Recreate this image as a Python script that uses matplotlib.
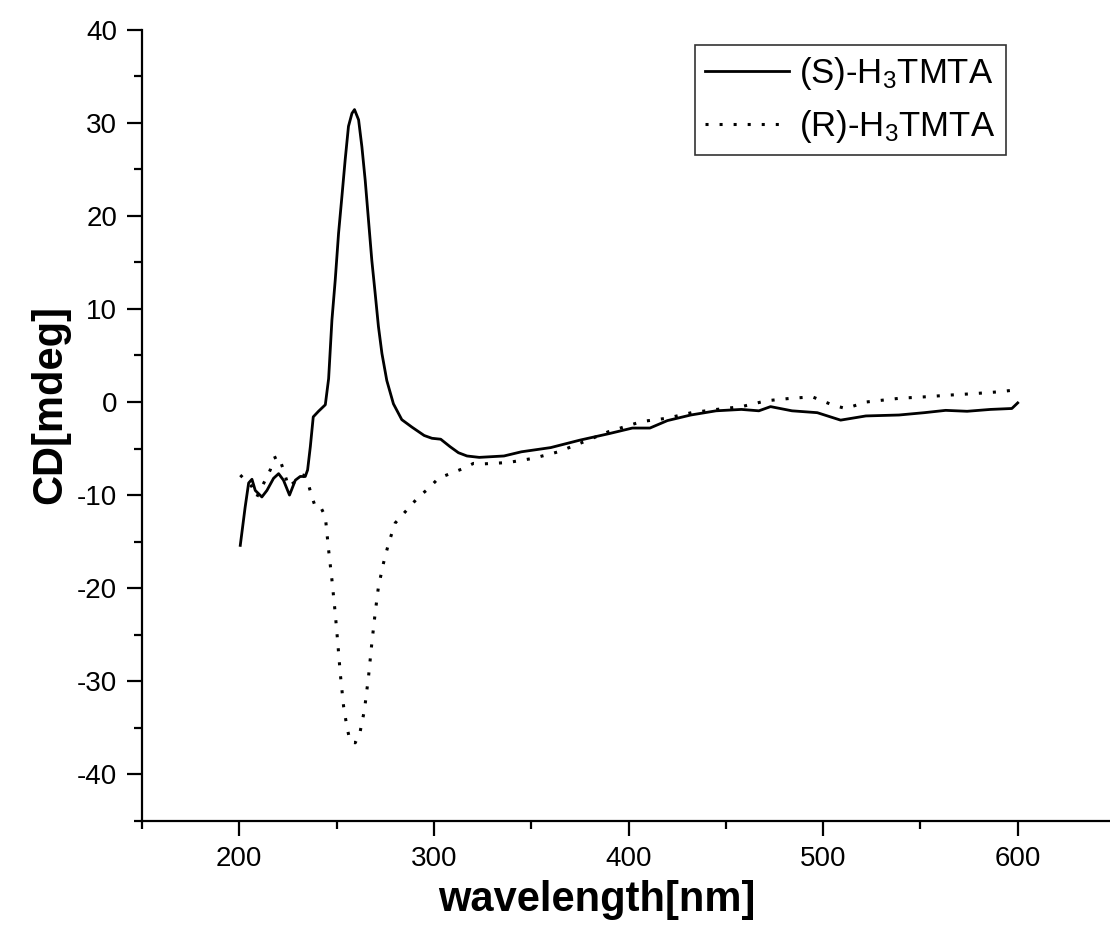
import matplotlib
matplotlib.use("Agg")
import matplotlib.pyplot as plt
from matplotlib.ticker import MultipleLocator

plt.rcParams['font.family'] = ['Liberation Sans', 'DejaVu Sans']
plt.rcParams['mathtext.default'] = 'regular'
plt.rcParams['axes.unicode_minus'] = False

# (S)-H3TMTA
s_wl = [200.5, 203, 204.8, 206.5, 208.2, 211.6, 214.2, 217.6, 220.2, 222.7, 225.8,
        228.8, 231.3, 233.9, 235.1, 236.5, 238, 240.7, 244.2, 245.9, 247.6, 249.3,
        251, 252.7, 254.4, 256.1, 257.9, 259.2, 261.3, 263, 264.7, 266.4, 268.1,
        269.8, 271.5, 273.3, 275.8, 279.2, 283.5, 288.7, 295, 299, 303.5, 308.3,
        312.6, 317, 323.3, 336, 345, 360, 375, 390, 402, 411, 420, 432, 445, 458,
        467, 473, 484, 497, 509, 522, 539, 552, 563, 574, 586, 597, 600]
s_cd = [-15.4, -11.3, -8.7, -8.3, -9.5, -10.2, -9.5, -8.2, -7.7, -8.4, -10.0,
        -8.4, -8.0, -8.0, -7.3, -4.8, -1.6, -1.0, -0.3, 2.5, 8.8, 13.1,
        18.1, 22.0, 26.0, 29.6, 31.0, 31.4, 30.3, 27.4, 23.8, 19.5, 15.2,
        11.7, 8.1, 5.2, 2.3, -0.2, -1.9, -2.7, -3.6, -3.9, -4.0, -4.8,
        -5.45, -5.8, -5.95, -5.8, -5.35, -4.9, -4.1, -3.4, -2.8, -2.8, -2.0, -1.4, -0.95, -0.8,
        -0.95, -0.5, -0.95, -1.15, -1.95, -1.5, -1.4, -1.15, -0.9, -1.0, -0.8, -0.7, -0.1]

# (R)-H3TMTA
r_wl = [200.5, 206.5, 209, 212.5, 215.9, 217.6, 220.2, 222.7, 225.3, 229.6, 233,
        235.6, 237.3, 239, 241.6, 244.2, 245.9, 247.6, 249.3, 250.5, 251.9, 253.6,
        255.3, 257, 259.6, 262.1, 264.3, 266.4, 268.1, 269.8, 271.5, 274.1, 276.7,
        280.1, 286.1, 292.1, 297.2, 302.3, 308.3, 314.4, 320.3, 325.4, 338.3, 351.1,
        364, 376.8, 389.6, 406.8, 419.6, 432.4, 445.3, 458.1, 470.9, 483.8, 494.5,
        505.2, 511.6, 522.3, 539.4, 552.2, 565.1, 577.9, 590.8, 599]
r_cd = [-7.85, -9.1, -10.2, -8.75, -7.3, -6.05, -5.8, -7.3, -9.1, -8.4, -7.85,
        -8.9, -10.2, -11.2, -11.2, -12.3, -15.9, -19.1, -22.7, -25.6, -29.2, -32.7,
        -34.9, -36.5, -36.6, -35.4, -33.1, -29.5, -25.9, -22.7, -19.85, -17.3, -15.2,
        -13.0, -11.6, -10.2, -9.3, -8.2, -7.7, -7.2, -6.6, -6.65, -6.5, -6.05,
        -5.35, -4.3, -3.2, -2.1, -1.75, -1.15, -0.8, -0.5, 0.13, 0.4, 0.55,
        -0.35, -0.7, 0.0, 0.4, 0.55, 0.74, 0.9, 1.1, 1.3]

fig = plt.figure(figsize=(11.1, 9.35), dpi=100)
ax = fig.add_axes([142 / 1110, 114 / 935, 973 / 1110, 791.5 / 935])

ax.plot(s_wl, s_cd, color='black', lw=2.0, label='(S)-H$_3$TMTA')
ax.plot(r_wl, r_cd, color='black', lw=2.2, linestyle=(0, (1, 3.6)), label='(R)-H$_3$TMTA')

ax.set_xlim(150, 650)
ax.set_ylim(-45, 40)
ax.xaxis.set_major_locator(MultipleLocator(100))
ax.xaxis.set_minor_locator(MultipleLocator(50))
ax.yaxis.set_major_locator(MultipleLocator(10))
ax.yaxis.set_minor_locator(MultipleLocator(5))

for side in ['top', 'right']:
    ax.spines[side].set_visible(False)
for side in ['left', 'bottom']:
    ax.spines[side].set_linewidth(1.6)

ax.tick_params(which='major', direction='out', length=11, width=1.6, labelsize=20, pad=7)
ax.tick_params(which='minor', direction='out', length=6, width=1.6)

ax.set_xlabel('wavelength[nm]', fontsize=30, fontweight='bold')
ax.set_ylabel('CD[mdeg]', fontsize=30, fontweight='bold')
ax.xaxis.set_label_coords((597 - 142) / 973, -0.1)
ax.yaxis.set_label_coords((50 - 142) / 973, 0.526)
ax.xaxis.label.set_va('center')
ax.yaxis.label.set_va('center')

leg = ax.legend(loc='upper left', bbox_to_anchor=(695 / 1110, 1 - 45 / 935),
                bbox_transform=fig.transFigure, borderaxespad=0, fontsize=25,
                frameon=True, fancybox=False, handlelength=2.4, handletextpad=0.3,
                labelspacing=0.45, borderpad=0.3)
leg.get_frame().set_edgecolor('black')
leg.get_frame().set_linewidth(1.2)

fig.savefig('out.png', dpi=100)
